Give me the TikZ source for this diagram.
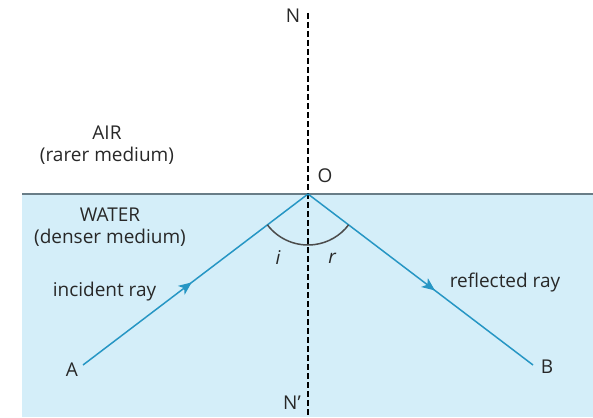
\documentclass[tikz,border=0pt]{standalone}
\usepackage{fontspec}
\setmainfont{Open Sans}
\usetikzlibrary{arrows.meta,decorations.markings}

\definecolor{water}{RGB}{212,238,249}
\definecolor{raycol}{RGB}{38,150,196}
\definecolor{surf}{RGB}{105,125,135}
\definecolor{txt}{RGB}{40,40,40}

\begin{document}
\begin{tikzpicture}[x=1pt, y=-1pt, >=Stealth,
	   font=\fontsize{19}{22}\selectfont, text=txt,
	   lbl/.style={inner sep=0pt},
	   raypath/.style={draw=raycol, line width=1.5pt},
	   midarrow/.style={postaction={decorate}, decoration={markings,
	     mark=at position #1 with {\arrow[raycol]{Stealth[length=13pt,width=11pt,inset=3.5pt]}}}},
	   normline/.style={draw=black, line width=1.2pt, dash pattern=on 6pt off 3pt},
	   anglearc/.style={draw=black!70, line width=1.5pt}]
	  \useasboundingbox (0,0) rectangle (593,417);
	  % water and surface
	  \fill[water] (22,194) rectangle (593,417);
	  \draw[surf, line width=2pt] (22,194) -- (593,194);
	  \coordinate (O) at (308,194);
	  \coordinate (ntop) at (308,13);
	  \coordinate (nbot) at (308,417);
	  \coordinate (a) at (83,365);
	  \coordinate (b) at (533,365);
	  \draw[normline] (ntop) -- (nbot);
	  \draw[raypath, midarrow=0.483] (a) -- (O);
	  \draw[raypath, midarrow=0.564] (O) -- (b);
	  \draw[anglearc] (O) ++(142.8:51) arc[start angle=142.8, end angle=37.2, radius=51];
	  % labels
	  \node[lbl] (N) at (293,16) {N};
	  \node[lbl] (Olbl) at (325,176) {O};
	  \node[lbl] (N2) at (292,403) {N'};
	  \node[lbl, align=center] (air) at (107,145) {AIR\\(rarer medium)};
	  \node[lbl, align=center] (wat) at (110,227) {WATER\\(denser medium)};
	  \node[lbl, font=\fontsize{19}{22}\selectfont\itshape] (i) at (278,258) {i};
	  \node[lbl, font=\fontsize{19}{22}\selectfont\itshape] (r) at (332,258) {r};
	  \node[lbl] (inc) at (104.5,292) {incident ray};
	  \node[lbl] (refl) at (505,283) {reflected ray};
	  \node[lbl] (A) at (72,370) {A};
	  \node[lbl] (B) at (547,367) {B};
	\end{tikzpicture}
\end{document}
